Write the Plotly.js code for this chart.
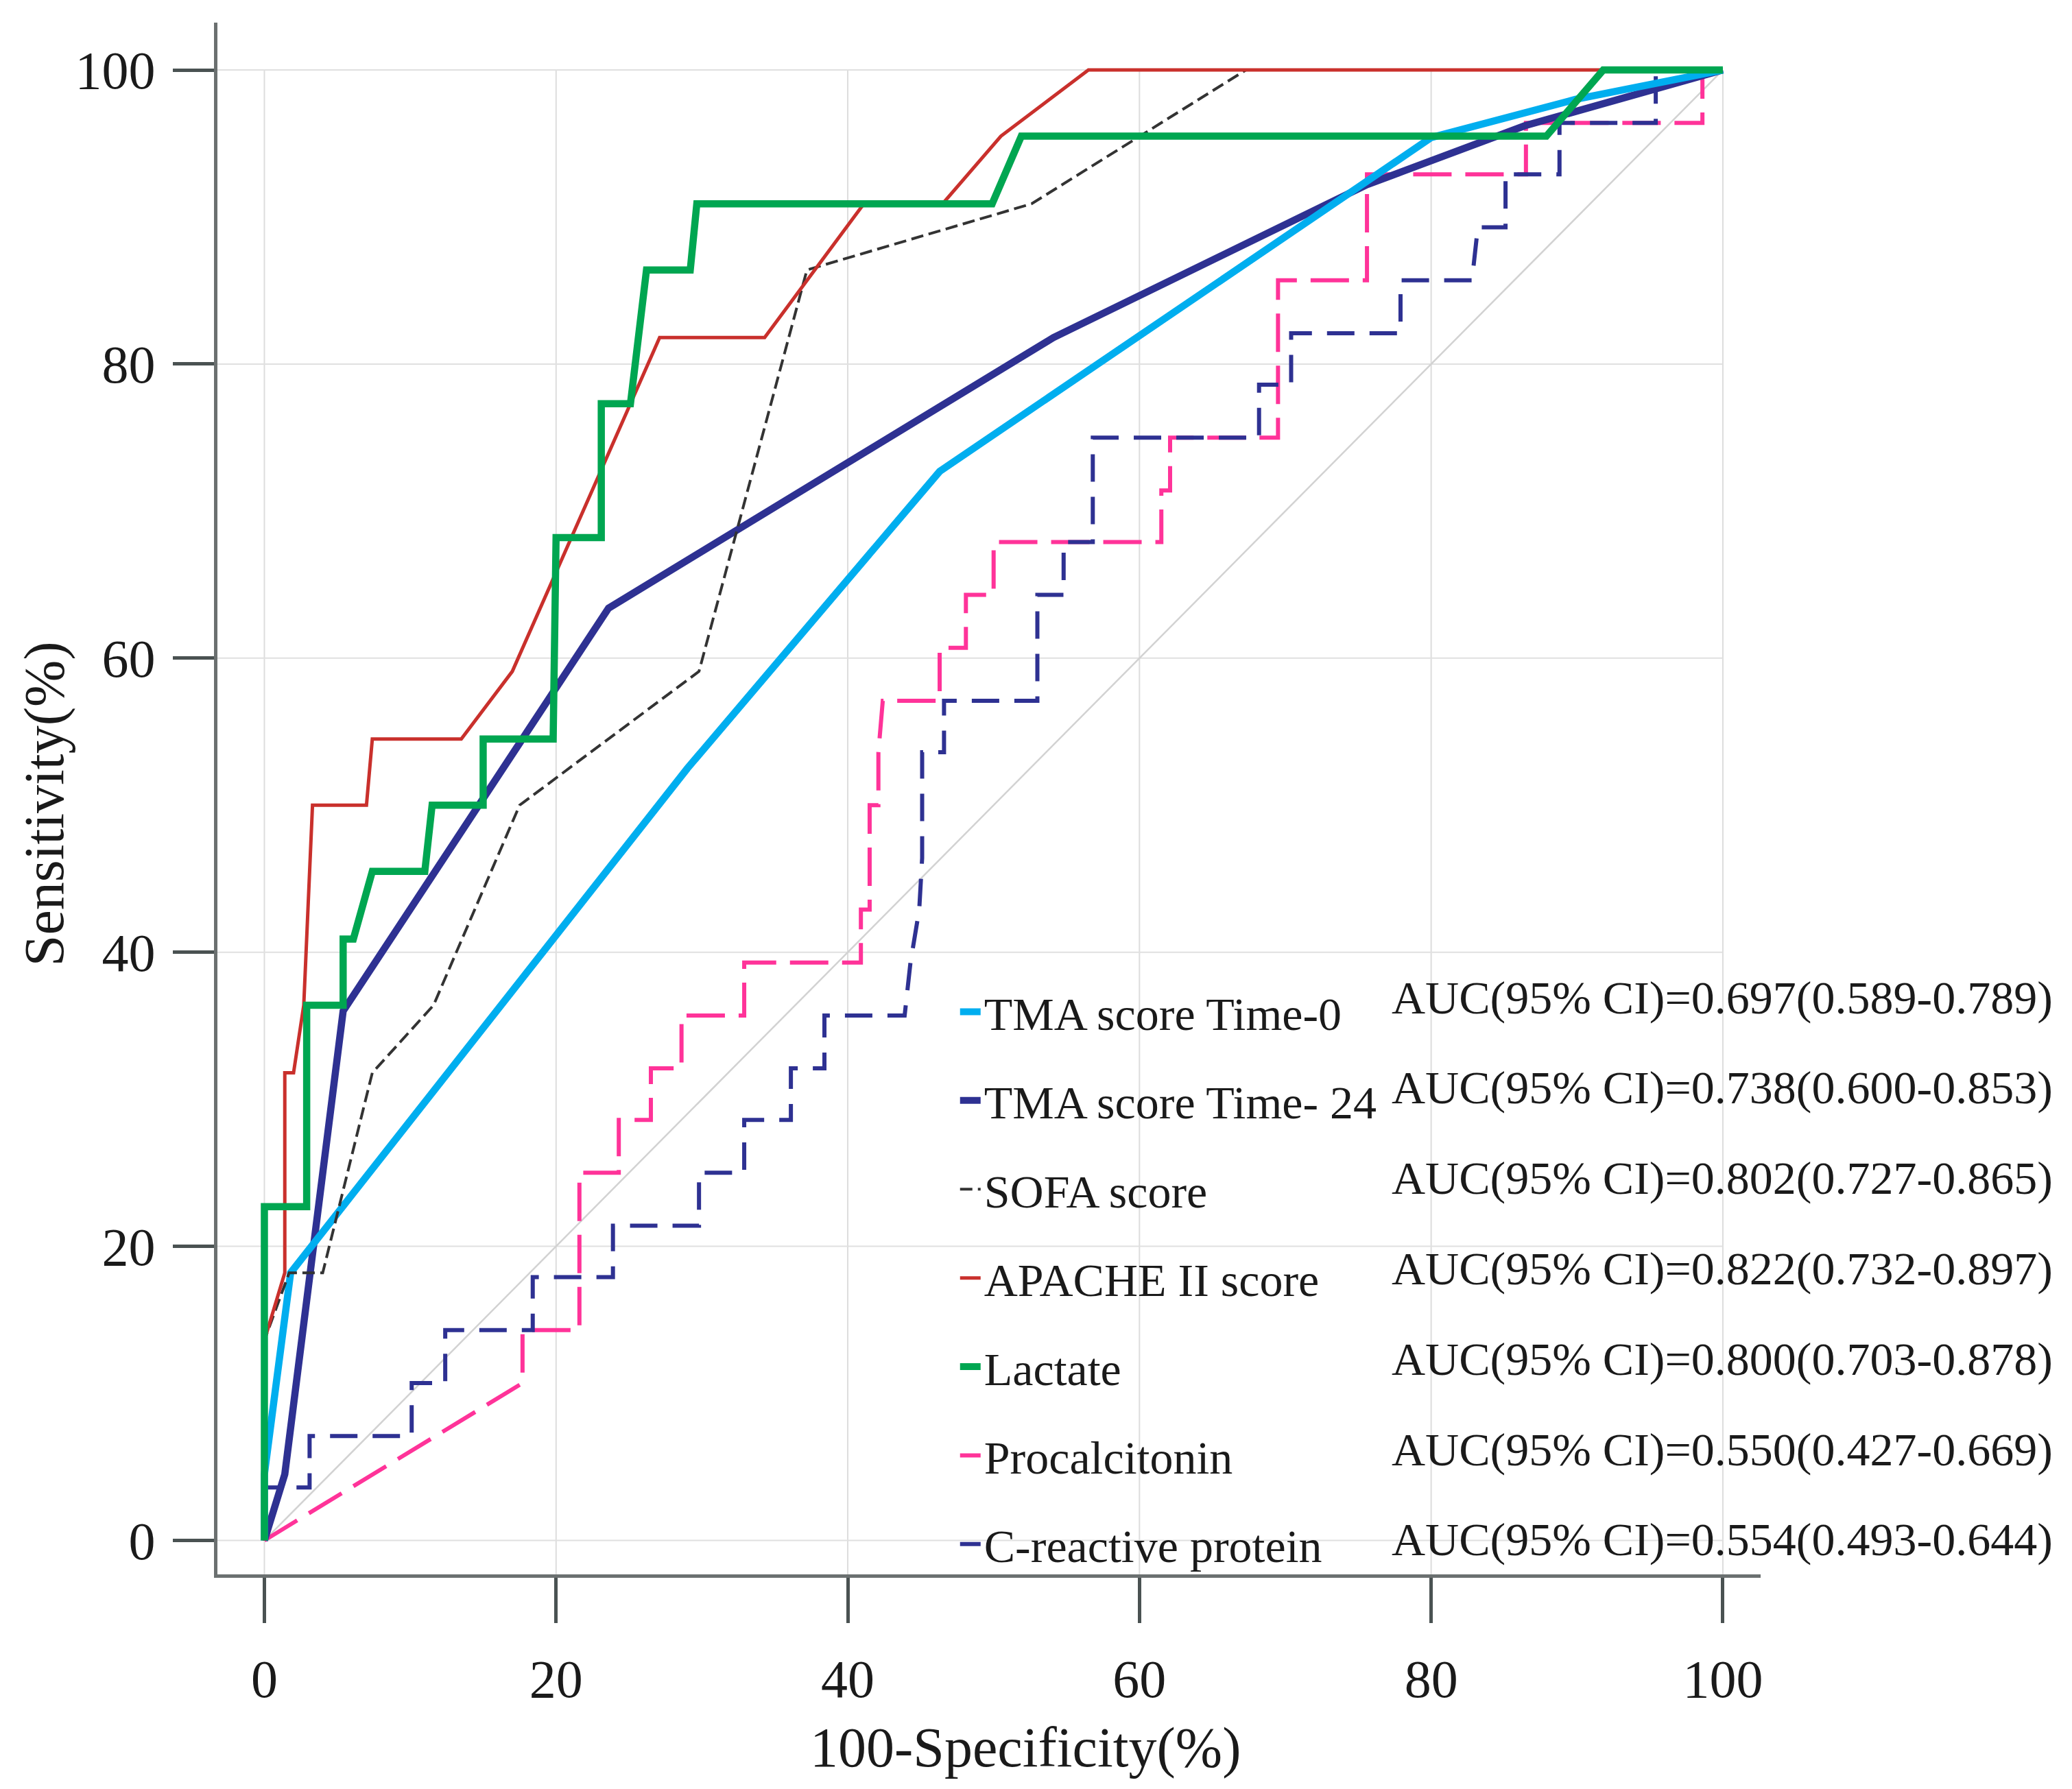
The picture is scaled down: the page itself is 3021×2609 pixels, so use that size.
<!DOCTYPE html>
<html>
<head>
<meta charset="utf-8">
<script src="https://cdn.plot.ly/plotly-3.0.1.min.js"></script>
<style>
html,body{margin:0;padding:0;background:#ffffff;}
#chart{width:3021px;height:2609px;}
</style>
</head>
<body>
<div id="chart"></div>
<script>
// ---------- data ----------
const seriesNames = ["TMA score Time-0", "TMA score Time- 24", "SOFA score", "APACHE II score", "Lactate", "Procalcitonin", "C-reactive protein"];
const aucLabels = [
  "AUC(95% CI)=0.697(0.589-0.789)",
  "AUC(95% CI)=0.738(0.600-0.853)",
  "AUC(95% CI)=0.802(0.727-0.865)",
  "AUC(95% CI)=0.822(0.732-0.897)",
  "AUC(95% CI)=0.800(0.703-0.878)",
  "AUC(95% CI)=0.550(0.427-0.669)",
  "AUC(95% CI)=0.554(0.493-0.644)"
];
const xTicks = [0, 20, 40, 60, 80, 100];
const yTicks = [0, 20, 40, 60, 80, 100];

const tma0X = [0, 0, 1.8, 29.0, 46.3, 80.0, 89.9, 100];
const tma0Y = [0, 4.5, 18.2, 52.5, 72.7, 95.4, 98.0, 100];

const tma24X = [0, 1.4, 5.4, 23.6, 54.1, 62.0, 75.6, 86.4, 100];
const tma24Y = [0, 4.5, 36.0, 63.4, 81.8, 85.6, 92.2, 96.2, 100];

const sofaX = [0, 0, 1.7, 4.0, 7.4, 11.6, 17.5, 29.8, 37.2, 52.6, 67.3, 100];
const sofaY = [0, 13.6, 18.2, 18.2, 31.8, 36.4, 50.0, 59.1, 86.4, 90.9, 100, 100];

const apacheX = [0, 0, 1.4, 1.4, 2.0, 2.7, 3.3, 7.0, 7.4, 13.5, 17.0, 27.1, 34.3, 41.1, 46.5, 50.5, 56.5, 100];
const apacheY = [0, 13.6, 18.2, 31.8, 31.8, 36.4, 50.0, 50.0, 54.5, 54.5, 59.1, 81.8, 81.8, 90.9, 90.9, 95.5, 100, 100];

const lactateX = [0, 0, 2.9, 2.9, 5.4, 5.4, 6.1, 7.4, 11.0, 11.5, 15.0, 15.0, 19.8, 20.0, 23.1, 23.1, 25.1, 26.2, 29.2, 29.65, 49.9, 51.9, 87.9, 91.8, 100];
const lactateY = [0, 22.7, 22.7, 36.4, 36.4, 40.9, 40.9, 45.5, 45.5, 50.0, 50.0, 54.5, 54.5, 68.2, 68.2, 77.3, 77.3, 86.4, 86.4, 90.9, 90.9, 95.5, 95.5, 100, 100];

const pctX = [0, 17.7, 17.7, 21.6, 21.6, 24.3, 24.3, 26.5, 26.5, 28.6, 28.6, 32.9, 32.9, 40.9, 40.9, 41.5, 41.5, 42.1, 42.1, 42.4, 46.3, 46.3, 48.1, 48.1, 50.0, 50.0, 61.5, 61.5, 62.1, 62.1, 69.5, 69.5, 75.6, 75.6, 86.5, 86.5, 98.6, 98.6, 100];
const pctY = [0, 10.7, 14.3, 14.3, 25.0, 25.0, 28.6, 28.6, 32.1, 32.1, 35.7, 35.7, 39.3, 39.3, 42.9, 42.9, 50.0, 50.0, 53.6, 57.1, 57.1, 60.7, 60.7, 64.3, 64.3, 67.9, 67.9, 71.4, 71.4, 75.0, 75.0, 85.7, 85.7, 92.9, 92.9, 96.4, 96.4, 100, 100];

const crpX = [0, 0, 3.1, 3.1, 10.1, 10.1, 12.4, 12.4, 18.4, 18.4, 23.9, 23.9, 29.8, 29.8, 32.9, 32.9, 36.1, 36.1, 38.4, 38.4, 43.9, 44.3, 44.9, 45.1, 45.1, 46.6, 46.6, 53.0, 53.0, 54.8, 54.8, 56.8, 56.8, 68.2, 68.2, 70.4, 70.4, 77.9, 77.9, 82.8, 83.2, 85.1, 85.1, 88.8, 88.8, 95.4, 95.4, 100];
const crpY = [0, 3.6, 3.6, 7.1, 7.1, 10.7, 10.7, 14.3, 14.3, 17.9, 17.9, 21.4, 21.4, 25.0, 25.0, 28.6, 28.6, 32.1, 32.1, 35.7, 35.7, 39.3, 42.9, 46.4, 53.6, 53.6, 57.1, 57.1, 64.3, 64.3, 67.9, 67.9, 75.0, 75.0, 78.6, 78.6, 82.1, 82.1, 85.7, 85.7, 89.3, 89.3, 92.9, 92.9, 96.4, 96.4, 100, 100];

const refX = [0, 100];
const refY = [0, 100];

// ---------- styling ----------
const FONT = "Liberation Serif, Times New Roman, serif";
const TXT = "#1a1a1a";
const xRange = [-3.22, 102.59];
const yRange = [-2.31, 103.22];

function roc(x, y, name, color, width, dash, rank) {
  return {
    type: "scatter", mode: "lines", x: x, y: y, name: name,
    line: {color: color, width: width, dash: dash, shape: "linear"},
    legendgroup: name, legendrank: rank, hoverinfo: "skip"
  };
}

const traces = [
  {type: "scatter", mode: "lines", x: refX, y: refY, showlegend: false,
   line: {color: "#d2d2d2", width: 2.5}, hoverinfo: "skip"},
  roc(pctX, pctY, seriesNames[5], "#ff3399", 6, "56px,20px", 6),
  roc(crpX, crpY, seriesNames[6], "#2e3192", 6, "40px,22px", 7),
  roc(tma24X, tma24Y, seriesNames[1], "#2e3192", 10.5, "solid", 2),
  roc(tma0X, tma0Y, seriesNames[0], "#00aeef", 10.5, "solid", 1),
  roc(sofaX, sofaY, seriesNames[2], "#333333", 4, "18px,8px", 3),
  roc(apacheX, apacheY, seriesNames[3], "#c9302c", 5, "solid", 4),
  roc(lactateX, lactateY, seriesNames[4], "#00a651", 10.5, "solid", 5)
];

// grid lines limited to the 0-100 data square (as in the reference)
const shapes = [];
xTicks.forEach(t => shapes.push({type: "line", layer: "below", xref: "x", yref: "y",
  x0: t, x1: t, y0: yRange[0], y1: yTicks[yTicks.length - 1], line: {color: "#dddddd", width: 2}}));
yTicks.forEach(t => shapes.push({type: "line", layer: "below", xref: "x", yref: "y",
  x0: xRange[0], x1: xTicks[xTicks.length - 1], y0: t, y1: t, line: {color: "#e0e0e0", width: 2}}));

// AUC annotations to the right of the legend entries
const aucX = 0.760, aucTopPx = 1455, aucStepPx = 131.8;
const plotTop = 33, plotBottom = 2296.5, plotH = plotBottom - plotTop;
const annotations = aucLabels.map((t, i) => ({
  text: t, xref: "paper", yref: "paper", x: aucX,
  y: (plotBottom - (aucTopPx + i * aucStepPx)) / plotH,
  xanchor: "left", yanchor: "middle", showarrow: false,
  font: {family: FONT, size: 68, color: TXT}
}));
annotations.push({text: "100-Specificity(%)", xref: "paper", yref: "paper", x: 0.5237, y: -0.1115,
  xanchor: "center", yanchor: "middle", showarrow: false, font: {family: FONT, size: 82, color: TXT}});
annotations.push({text: "Sensitivity(%)", xref: "paper", yref: "paper", x: -0.1122, y: 0.4964,
  xanchor: "center", yanchor: "middle", textangle: -90, showarrow: false, font: {family: FONT, size: 82, color: TXT}});

const axisCommon = {
  showgrid: false, zeroline: false, showline: true, linecolor: "#6b7070", linewidth: 5,
  ticks: "outside", tickwidth: 5, tickcolor: "#4a5252",
  tickfont: {family: FONT, size: 78, color: TXT}, fixedrange: true
};

const layout = {
  width: 3021, height: 2609,
  margin: {l: 316.5, r: 454, t: 33, b: 312.5},
  paper_bgcolor: "#ffffff", plot_bgcolor: "rgba(0,0,0,0)",
  font: {family: FONT, color: TXT},
  xaxis: Object.assign({}, axisCommon, {range: xRange, tickvals: xTicks, ticktext: xTicks.map(String),
    ticklen: 66, ticklabelstandoff: 14}),
  yaxis: Object.assign({}, axisCommon, {range: yRange, tickvals: yTicks, ticktext: yTicks.map(String),
    ticklen: 60, ticklabelstandoff: 10}),
  showlegend: true,
  legend: {
    x: 0.479, y: 0.385, xanchor: "left", yanchor: "top",
    bgcolor: "rgba(0,0,0,0)", borderwidth: 0,
    font: {family: FONT, size: 68, color: TXT},
    traceorder: "grouped", tracegroupgap: 38, itemclick: false, itemdoubleclick: false
  },
  shapes: shapes,
  annotations: annotations
};

Plotly.newPlot("chart", traces, layout, {staticPlot: true, displayModeBar: false});
</script>
</body>
</html>
